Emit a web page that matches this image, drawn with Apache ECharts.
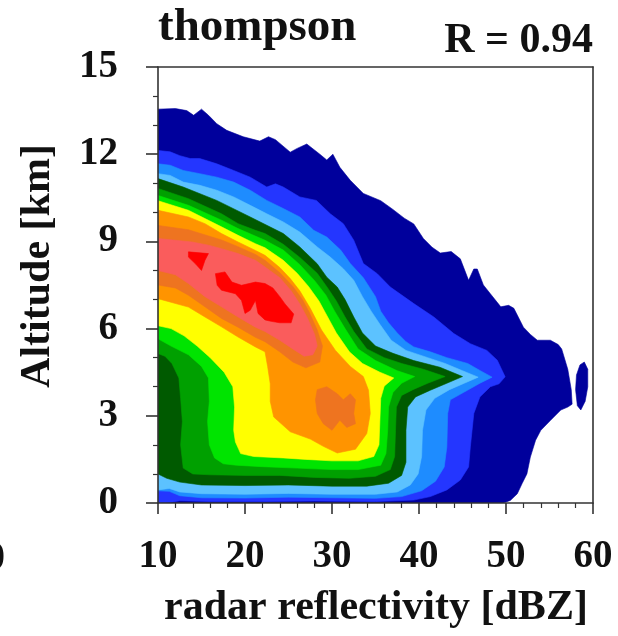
<!DOCTYPE html>
<html><head><meta charset="utf-8">
<script src="https://cdn.jsdelivr.net/npm/echarts@6/dist/echarts.min.js"></script>
<style>html,body{margin:0;padding:0;background:#fff}#c{width:618px;height:636px}</style>
</head><body><div id="c"></div>
<script>
// ---- axis settings (values) ----
const xRange = [10, 60];   // radar reflectivity [dBZ]
const yRange = [0, 15];    // altitude [km]
const xStep = 10, yStep = 3;

// ---- contour level boundaries, points are [dBZ, km] ----
const lvNavy = [[10,0],[10,13.55],[12.0,13.57],[13.3,13.5],[14.1,13.34],[15.0,13.55],[15.8,13.34],[16.75,13.05],[17.9,12.82],[19.8,12.6],[21.7,12.45],[22.7,12.6],[23.5,12.5],[25.2,12.07],[26.0,12.2],[27.1,12.35],[28.6,12.0],[29.4,11.8],[30.1,12.0],[30.9,11.55],[32.1,11.1],[33.6,10.65],[35.6,10.4],[37.0,10.1],[38.3,9.8],[39.4,9.6],[40.5,9.1],[41.5,8.8],[42.45,8.6],[43.7,8.65],[44.75,8.4],[45.7,7.66],[46.3,8.05],[46.7,8.05],[47.4,7.5],[48.2,7.2],[49.4,6.75],[50.3,6.8],[50.9,6.7],[52.0,6.05],[52.8,5.8],[53.6,5.6],[55.1,5.6],[56.0,5.45],[56.4,5.3],[57.1,4.6],[57.5,3.9],[57.6,3.4],[57.1,3.3],[56.3,3.2],[55.1,2.84],[54.0,2.5],[53.4,2.16],[52.8,1.58],[52.4,1.0],[51.85,0.67],[51.3,0.32],[50.5,0.09],[49.7,0]];
const lvNavyIsland = [[58.0,3.9],[58.1,4.4],[58.5,4.75],[59.0,4.85],[59.4,4.6],[59.4,4.0],[59.1,3.5],[58.6,3.2],[58.2,3.35]];
const lvBlue = [[10,0],[10,12.13],[11.4,12.08],[12.5,11.95],[13.7,11.85],[14.8,11.85],[16.75,11.67],[18.7,11.44],[20.6,11.21],[22.5,10.87],[23.5,10.98],[24.4,10.87],[26.3,10.53],[28.2,10.41],[29.8,9.95],[31.3,9.61],[32.5,9.04],[33.6,8.24],[35.2,7.89],[36.7,7.43],[39.4,6.86],[41.7,6.40],[44.0,5.83],[45.9,5.48],[47.8,5.25],[49.0,4.91],[49.9,4.34],[49.2,4.1],[48.2,4.0],[47.0,3.65],[46.3,3.08],[45.9,1.93],[45.7,1.24],[44.75,0.79],[43.2,0.45],[41.3,0.22],[39.4,0.1],[35,0.05],[28,0.07],[22,0.05],[16,0.05],[12.5,0.08],[11.5,0.03]];
const lvDodger = [[10,0.42],[10,11.67],[11.4,11.62],[12.9,11.44],[14.8,11.33],[16.75,11.21],[18.7,11.04],[20.6,10.76],[22.5,10.41],[24.4,10.13],[26.3,9.84],[27.9,9.38],[29.4,9.15],[31.0,8.70],[32.1,8.24],[33.6,7.75],[35.0,7.1],[35.6,6.6],[36.5,6.2],[37.5,5.85],[38.5,5.55],[39.4,5.37],[41.3,5.2],[43.2,5.0],[45.6,4.8],[47.0,4.56],[48.4,4.33],[47.0,4.12],[45.1,3.8],[43.6,3.55],[43.3,3.08],[43.2,1.93],[42.9,1.24],[41.9,0.75],[40.3,0.42],[38,0.22],[35,0.16],[30,0.18],[25,0.2],[20,0.17],[15,0.18],[12.5,0.25],[11.3,0.4]];
const lvLightBlue = [[10,0.45],[10,11.33],[11.4,11.27],[12.9,11.04],[14.8,10.93],[16.75,10.76],[18.7,10.53],[20.6,10.24],[22.5,9.95],[24.4,9.67],[26.3,9.32],[28.3,8.81],[29.8,8.46],[31.3,8.06],[32.5,7.66],[33.5,7.1],[34.5,6.6],[35.5,6.15],[36.8,5.6],[38.5,5.25],[41,5.0],[43,4.8],[45,4.55],[46.8,4.33],[45.2,4.12],[43.5,3.9],[41.8,3.6],[40.8,3.2],[40.4,2.5],[40.3,1.6],[39.9,1.0],[39.0,0.62],[37.5,0.38],[35,0.3],[30,0.3],[25,0.33],[20,0.3],[15,0.32],[12.5,0.38],[11.3,0.5]];
const lvDarkGreen = [[10,1.0],[10,11.16],[12.9,10.87],[16.75,10.41],[20.6,9.84],[24.4,9.27],[26.3,8.81],[28.3,8.23],[29.4,7.77],[30.6,7.43],[31.5,7.0],[32.5,6.4],[33.5,5.85],[35.0,5.4],[37,5.15],[39.4,4.9],[42.4,4.67],[45.0,4.35],[43.2,4.12],[41.3,3.88],[39.6,3.65],[38.7,3.3],[38.5,2.5],[38.5,1.4],[38.0,0.95],[36.5,0.68],[34,0.58],[30,0.58],[25,0.62],[20,0.6],[15,0.62],[12.5,0.72],[11,0.85]];
const lvGreen = [[10,5.14],[10,10.82],[13.5,10.47],[17.3,9.95],[19.2,9.61],[21.2,9.38],[22.3,9.27],[24.4,8.9],[26.3,8.45],[28.3,7.9],[29.5,7.4],[30.5,6.95],[31.5,6.4],[32.5,5.9],[34,5.3],[36,5.0],[38,4.8],[40.5,4.6],[43.0,4.35],[41,4.12],[39.3,3.9],[38.0,3.7],[37.4,3.3],[37.3,2.5],[37.2,1.6],[36.7,1.15],[35,0.92],[32,0.85],[28,0.88],[24,0.95],[20,0.95],[16,0.97],[14,1.0],[12.9,1.2],[12.6,2.0],[12.8,2.8],[12.6,3.6],[12.4,4.3],[11.6,4.8],[10.8,5.05]];
const lvLime = [[10,5.65],[10,10.58],[13.5,10.24],[17.3,9.73],[19.2,9.44],[22.3,9.04],[24.4,8.7],[26.3,8.2],[28,7.65],[29.3,7.15],[30.3,6.6],[31.5,6.0],[33,5.3],[35,4.9],[37.5,4.55],[39.5,4.35],[38,4.12],[37.0,3.8],[36.5,3.3],[36.4,2.5],[36.2,1.7],[35.6,1.3],[33,1.15],[30,1.15],[26,1.2],[22,1.25],[19,1.3],[17.5,1.35],[16.5,1.55],[15.9,2.0],[15.7,2.8],[15.9,3.5],[15.8,4.3],[15.0,4.7],[13.5,5.1],[11.5,5.4]];
const lvYellow = [[10,6.1],[10,10.4],[13.5,10.07],[17.3,9.5],[19.2,9.21],[21.2,8.92],[22.3,8.78],[24.4,8.35],[26.0,7.9],[27.3,7.45],[28.5,6.95],[29.5,6.4],[30.5,5.85],[32.0,5.2],[33.5,4.8],[35.5,4.5],[37.1,4.3],[36.0,4.02],[35.6,3.6],[35.5,2.8],[35.4,2.0],[34.8,1.6],[33,1.45],[30,1.45],[27,1.5],[24.4,1.55],[21,1.6],[19.5,1.7],[18.9,2.1],[18.7,2.5],[18.8,3.3],[18.6,4.0],[17.6,4.5],[16,5.0],[14.5,5.4],[13.0,5.75],[11.5,6.0]];
const lvOrange = [[10,7.03],[10,10.07],[13.5,9.84],[15.4,9.61],[17.3,9.27],[19.2,8.98],[21.2,8.69],[22.3,8.52],[24.0,8.1],[25.2,7.72],[26.3,7.3],[27.5,6.7],[28.8,5.95],[30.4,5.25],[32.1,4.7],[33.6,4.35],[34.2,3.88],[34.4,3.08],[34.0,2.39],[32.7,1.85],[30.6,1.72],[29.0,1.95],[27.5,2.2],[25.2,2.45],[23.3,2.96],[22.9,3.5],[22.9,4.1],[22.6,4.7],[22.3,5.2],[21.2,5.37],[19.2,5.71],[17.3,6.06],[15.4,6.4],[13.5,6.74]];
const lvDarkOrange = [[10,7.5],[10,9.55],[13.5,9.4],[17.3,9.05],[19.2,8.82],[21.2,8.55],[22.3,8.35],[24.0,7.92],[25.5,7.45],[26.6,7.0],[27.4,6.55],[28.3,5.95],[28.9,5.4],[28.6,4.85],[27.0,4.65],[25.5,4.85],[24.0,5.2],[22.3,5.55],[21.2,5.7],[19.2,6.05],[17.3,6.35],[15.4,6.75],[13.5,7.15],[12,7.4]];
const lvDarkOrangeBlob = [[28.1,3.55],[28.3,3.9],[29.4,4.0],[30.6,3.76],[31.3,3.55],[32.1,3.76],[32.7,3.55],[32.5,3.08],[32.7,2.73],[31.7,2.6],[30.9,2.85],[30.0,2.5],[29.0,2.73],[28.3,3.08]];
const lvSalmon = [[10,8.0],[10,9.1],[12,9.04],[13.9,8.98],[15.8,8.87],[17.3,8.75],[19.2,8.58],[21.2,8.35],[22.3,8.12],[24.0,7.75],[25.3,7.3],[26.3,6.85],[27.2,6.35],[28.0,5.8],[28.3,5.4],[27.8,5.1],[26.8,5.05],[25.5,5.3],[24.0,5.6],[22.3,5.9],[21.2,6.05],[19.2,6.4],[17.3,6.75],[15.4,7.1],[13.5,7.55],[12,7.85]];
const lvRedA = [[13.5,8.64],[15.8,8.58],[15.4,8.35],[15.0,8.0],[14.3,8.23],[13.5,8.46]];
const lvRedB = [[16.6,7.89],[17.7,7.95],[18.5,7.6],[19.6,7.49],[21.2,7.6],[22.3,7.55],[23.2,7.4],[24.0,7.1],[24.6,6.85],[25.6,6.5],[25.3,6.2],[24.0,6.2],[23.0,6.25],[22.3,6.3],[21.5,6.52],[21.2,6.97],[20.6,6.63],[20.0,6.52],[19.6,6.97],[18.9,7.2],[17.3,7.32],[16.8,7.49]];

// drawing order: lowest frequency level first
const levelShapes = [
  [lvNavy, lvNavyIsland], [lvBlue], [lvDodger], [lvLightBlue], [lvDarkGreen], [lvGreen],
  [lvLime], [lvYellow], [lvOrange], [lvDarkOrange, lvDarkOrangeBlob], [lvSalmon], [lvRedA, lvRedB]
];
const levelColors = ['#00009c','#2436ff','#1e8cff','#5cc2ff','#005a00','#00a000','#00e400','#ffff00','#ff9400','#ee7420','#fa5c5c','#ff0000'];

const FONT = '"Liberation Serif","Times New Roman",serif';
const axisColor = '#333';

const series = [];
levelShapes.forEach((shapes, li) => {
  shapes.forEach(poly => {
    series.push({
      type: 'custom', coordinateSystem: 'cartesian2d', xAxisIndex: 0, yAxisIndex: 0,
      data: poly, encode: { x: 0, y: 1 }, silent: true, clip: true,
      renderItem: (params, api) => {
        if (params.dataIndex !== 0) return null;
        return { type: 'polygon', shape: { points: poly.map(p => api.coord(p)) },
                 style: { fill: levelColors[li], stroke: levelColors[li], lineWidth: 0.6 } };
      }
    });
  });
});

const labelStyle = { fontFamily: FONT, fontWeight: 'bold', fontSize: 39, color: '#111' };
const frameAxis = { type: 'value', z: 10, axisLine: { show: true, onZero: false, lineStyle: { color: axisColor, width: 1.6 } },
  axisTick: { show: false }, axisLabel: { show: false }, splitLine: { show: false } };

const chart = echarts.init(document.getElementById('c'), null, { renderer: 'canvas' });
chart.setOption({
  animation: false,
  backgroundColor: '#fff',
  grid: { left: 158, top: 67, right: 25, bottom: 133, containLabel: false },
  xAxis: [
    { type: 'value', min: xRange[0], max: xRange[1], interval: xStep, position: 'bottom', z: 10,
      axisLine: { onZero: false, lineStyle: { color: axisColor, width: 1.6 } },
      axisTick: { inside: false, length: 11, lineStyle: { color: axisColor, width: 1.6 } },
      minorTick: { show: true, splitNumber: 5, length: 5, lineStyle: { color: axisColor, width: 1.2 } },
      splitLine: { show: false }, minorSplitLine: { show: false },
      axisLabel: Object.assign({ margin: 34 }, labelStyle) },
    Object.assign({ min: xRange[0], max: xRange[1], position: 'top' }, frameAxis)
  ],
  yAxis: [
    { type: 'value', min: yRange[0], max: yRange[1], interval: yStep, position: 'left', z: 10,
      axisLine: { onZero: false, lineStyle: { color: axisColor, width: 1.6 } },
      axisTick: { inside: false, length: 12, lineStyle: { color: axisColor, width: 1.6 } },
      minorTick: { show: true, splitNumber: 3, length: 5, lineStyle: { color: axisColor, width: 1.2 } },
      splitLine: { show: false }, minorSplitLine: { show: false },
      axisLabel: Object.assign({ margin: 40 }, labelStyle) },
    Object.assign({ min: yRange[0], max: yRange[1], position: 'right' }, frameAxis)
  ],
  graphic: [
    { type: 'text', x: 158, y: 28, z: 20, style: { text: 'thompson', font: 'bold 47px ' + FONT, fill: '#111', align: 'left', verticalAlign: 'middle' } },
    { type: 'text', x: 593, y: 41, z: 20, style: { text: 'R = 0.94', font: 'bold 42px ' + FONT, fill: '#111', align: 'right', verticalAlign: 'middle' } },
    { type: 'text', x: 376, y: 608, z: 20, style: { text: 'radar reflectivity [dBZ]', font: 'bold 42px ' + FONT, fill: '#111', align: 'center', verticalAlign: 'middle' } },
    { type: 'text', x: 38, y: 266, rotation: Math.PI / 2, z: 20, style: { text: 'Altitude [km]', font: 'bold 42px ' + FONT, fill: '#111', align: 'center', verticalAlign: 'middle' } },
    { type: 'text', x: 5, y: 559, z: 20, style: { text: '0', font: 'bold 39px ' + FONT, fill: '#111', align: 'right', verticalAlign: 'middle' } }
  ],
  series: series
});
</script></body></html>
